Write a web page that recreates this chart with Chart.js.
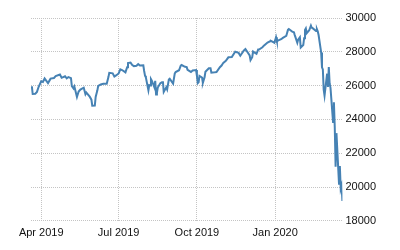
<!DOCTYPE html>
<html>
<head>
<meta charset="utf-8">
<script src="https://cdn.jsdelivr.net/npm/chart.js@4"></script>
<style>
  html, body { margin: 0; padding: 0; background: #fff; }
  #wrap { width: 400px; height: 250px; }
</style>
</head>
<body>
<div id="wrap"><canvas id="myChart"></canvas></div>
<script>
// dates and closes
const dates = [
  "2019-03-20","2019-03-21","2019-03-22","2019-03-25","2019-03-27","2019-03-29",
  "2019-04-01","2019-04-03","2019-04-05","2019-04-09","2019-04-12","2019-04-16","2019-04-18",
  "2019-04-23","2019-04-25","2019-04-29","2019-05-01","2019-05-03","2019-05-06","2019-05-07",
  "2019-05-09","2019-05-10","2019-05-13","2019-05-15","2019-05-17","2019-05-21","2019-05-23",
  "2019-05-24","2019-05-28","2019-05-30","2019-05-31","2019-06-03","2019-06-04","2019-06-06",
  "2019-06-07","2019-06-10","2019-06-13","2019-06-17","2019-06-19","2019-06-20","2019-06-24",
  "2019-06-26","2019-06-28","2019-07-01","2019-07-03","2019-07-05","2019-07-09","2019-07-11",
  "2019-07-12","2019-07-15","2019-07-17","2019-07-19","2019-07-22","2019-07-24","2019-07-26",
  "2019-07-30","2019-07-31","2019-08-01","2019-08-02","2019-08-05","2019-08-06","2019-08-07",
  "2019-08-08","2019-08-09","2019-08-12","2019-08-13","2019-08-14","2019-08-15","2019-08-16",
  "2019-08-19","2019-08-21","2019-08-22","2019-08-23","2019-08-26","2019-08-27","2019-08-29",
  "2019-08-30","2019-09-03","2019-09-05","2019-09-06","2019-09-10","2019-09-12","2019-09-13",
  "2019-09-17","2019-09-19","2019-09-20","2019-09-24","2019-09-26","2019-09-30","2019-10-01",
  "2019-10-02","2019-10-03","2019-10-04","2019-10-07","2019-10-08","2019-10-10","2019-10-11",
  "2019-10-15","2019-10-17","2019-10-18","2019-10-22","2019-10-24","2019-10-28","2019-10-30",
  "2019-11-01","2019-11-04","2019-11-07","2019-11-11","2019-11-15","2019-11-19","2019-11-21",
  "2019-11-25","2019-11-27","2019-12-02","2019-12-03","2019-12-05","2019-12-06","2019-12-10",
  "2019-12-12","2019-12-13","2019-12-17","2019-12-19","2019-12-23","2019-12-26","2019-12-27",
  "2019-12-31","2020-01-02","2020-01-03","2020-01-06","2020-01-08","2020-01-10","2020-01-14",
  "2020-01-16","2020-01-17","2020-01-21","2020-01-23","2020-01-24","2020-01-27","2020-01-28",
  "2020-01-30","2020-01-31","2020-02-03","2020-02-04","2020-02-05","2020-02-06","2020-02-07",
  "2020-02-10","2020-02-12","2020-02-13","2020-02-14","2020-02-18","2020-02-19","2020-02-20",
  "2020-02-21","2020-02-24","2020-02-25","2020-02-26","2020-02-27","2020-02-28","2020-03-02",
  "2020-03-03","2020-03-04","2020-03-05","2020-03-06","2020-03-09","2020-03-10","2020-03-11",
  "2020-03-12","2020-03-13","2020-03-16","2020-03-17","2020-03-18","2020-03-19","2020-03-20"
];
const closes = [
  25900,25962,25502,25516,25626,25929,
  26258,26218,26425,26150,26412,26452,26559,
  26656,26462,26554,26430,26505,26438,25965,
  25828,25942,25324,25648,25764,25877,25490,
  25586,25347,25169,24815,24820,25332,25720,
  25984,26062,26106,26112,26504,26753,26727,
  26536,26600,26718,26966,26922,26783,27088,
  27332,27359,27220,27154,27172,27270,27192,
  27198,26864,26583,26485,25717,26030,26008,
  26378,26287,25897,26280,25479,25579,25886,
  26135,26202,26252,25628,25898,25778,26362,
  26403,26118,26728,26797,26909,27182,27219,
  27110,27094,26935,26807,26891,26917,26573,
  26150,26201,26573,26478,26164,26497,26817,
  27024,27026,26770,26788,26806,27091,27186,
  27347,27462,27674,27691,28004,27934,27766,
  28066,28164,27783,27503,27677,28015,27881,
  28132,28135,28267,28376,28551,28621,28645,
  28538,28868,28634,28703,28745,28823,28939,
  29297,29348,29196,29160,28989,28535,28723,
  28859,28256,28399,28807,29290,29379,29102,
  29276,29551,29423,29398,29232,29348,29219,
  28992,27960,27081,26957,25766,25409,26703,
  25917,27091,26121,25864,23851,25018,23553,
  21200,23185,20189,21237,19899,20087,19174
];
const tickDates = ["2019-04-01", "2019-07-01", "2019-10-01", "2020-01-01"];
const tickLabels = ["Apr 2019", "Jul 2019", "Oct 2019", "Jan 2020"];
const yTicks = [18000, 20000, 22000, 24000, 26000, 28000, 30000];

// days since first date, used as x
function dayOf(s) {
  const p = s.split("-");
  return Date.UTC(+p[0], +p[1] - 1, +p[2]) / 86400000;
}
const day0 = dayOf(dates[0]);
const points = dates.map((d, i) => ({ x: dayOf(d) - day0, y: closes[i] }));
const tickX = tickDates.map((d) => dayOf(d) - day0);

const gridStyle = {
  color: "#c4c4c4",
  lineWidth: 1,
  drawTicks: false,
};
const tickFont = { family: "Liberation Sans", size: 11 };

new Chart("myChart", {
  type: "line",
  data: {
    datasets: [
      {
        data: points,
        borderColor: "#4682b4",
        borderWidth: 2,
        pointRadius: 0,
        tension: 0,
        fill: false,
      },
    ],
  },
  options: {
    responsive: true,
    maintainAspectRatio: false,
    animation: false,
    layout: { padding: { left: 31, right: 21, top: 18, bottom: 4 } },
    plugins: { legend: { display: false }, tooltip: { enabled: false } },
    scales: {
      x: {
        type: "linear",
        min: 0,
        max: points[points.length - 1].x,
        border: { display: false, dash: [1, 1] },
        grid: gridStyle,
        afterBuildTicks: (axis) => {
          axis.ticks = tickX.map((v) => ({ value: v }));
        },
        ticks: {
          autoSkip: false,
          maxRotation: 0,
          padding: 6,
          color: "#111",
          font: tickFont,
          callback: (v) => tickLabels[tickX.indexOf(v)],
        },
      },
      y: {
        position: "right",
        min: 18000,
        max: 30000,
        border: { display: false, dash: [1, 1] },
        grid: gridStyle,
        afterBuildTicks: (axis) => {
          axis.ticks = yTicks.map((v) => ({ value: v }));
        },
        ticks: {
          padding: 3,
          color: "#111",
          font: tickFont,
          callback: (v) => String(v),
        },
      },
    },
  },
});
</script>
</body>
</html>
